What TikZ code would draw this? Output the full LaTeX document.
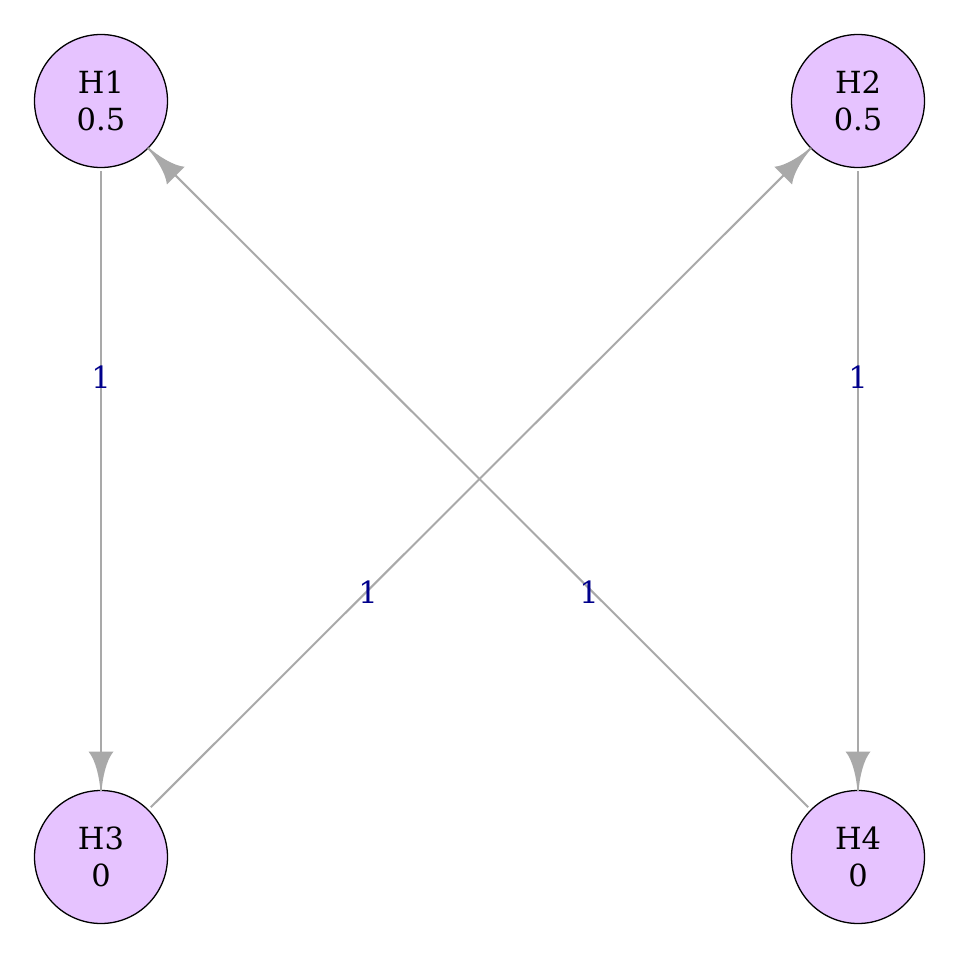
\documentclass[tikz,border=0pt]{standalone}
\usepackage{fontspec}
\setmainfont{DejaVu Serif}
\usetikzlibrary{decorations.markings}
\definecolor{nodefill}{HTML}{E6C3FF}
\definecolor{edgegray}{HTML}{A9A9A9}
\definecolor{labelblue}{HTML}{00008B}
\tikzset{
  state/.style={circle, draw=black, line width=1.3pt, fill=nodefill,
    minimum size=133pt, inner sep=0pt, outer sep=0pt, align=center,
    font=\fontsize{30.5}{37}\selectfont},
  edgelabel/.style={text=labelblue, font=\fontsize{30.5}{36}\selectfont, inner sep=1pt},
  flow/.style={draw=edgegray, line width=2pt, shorten <=4pt,
    postaction={decorate},
    decoration={markings, mark=at position 1 with {
      \fill[edgegray] (0,0.6) .. controls (-12,1.5) and (-30,5) .. (-39,12.5)
        -- (-39,-12.5) .. controls (-30,-5) and (-12,-1.5) .. (0,-0.6) -- cycle;}}}
}
\begin{document}
\begin{tikzpicture}[x=1pt, y=-1pt]
\useasboundingbox (0,0) rectangle (960,960);
\fill[white] (0,0) rectangle (960,960);

\node[state] (h1) at (101,101) {H1\\0.5};
\node[state] (h2) at (858,101) {H2\\0.5};
\node[state] (h3) at (101,857) {H3\\0};
\node[state] (h4) at (858,857) {H4\\0};

\draw[flow] (h1) -- (h3);
\draw[flow] (h2) -- (h4);
\draw[flow] (h3) -- (h2);
\draw[flow] (h4) -- (h1);

\node[edgelabel] (l13) at (101,377) {1};
\node[edgelabel] (l24) at (858,377) {1};
\node[edgelabel] (l32) at (368,592) {1};
\node[edgelabel] (l41) at (589,592) {1};
\end{tikzpicture}
\end{document}
